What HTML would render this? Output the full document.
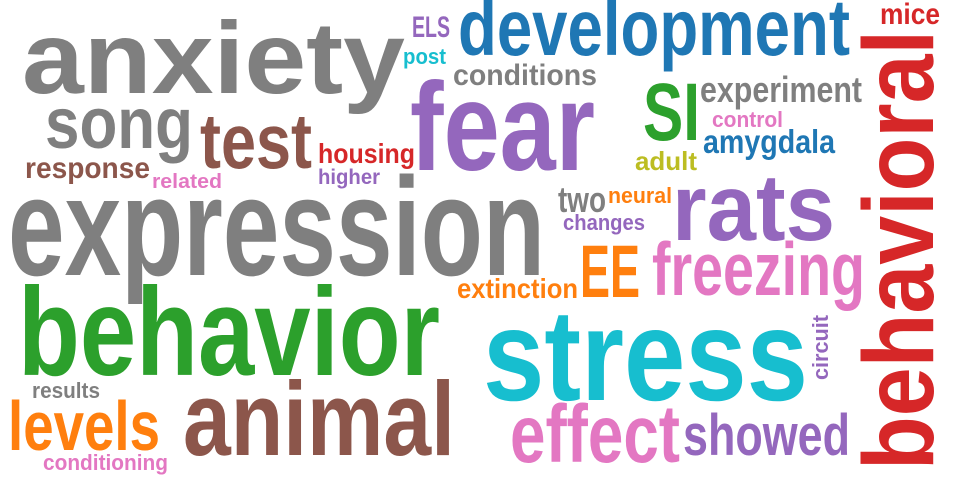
<!DOCTYPE html>
<html><head><meta charset="utf-8"><style>
html,body{margin:0;padding:0;background:#fff;width:960px;height:480px;overflow:hidden}
svg text{font-family:"Liberation Sans Narrow","Liberation Sans",sans-serif;font-weight:bold}
</style></head><body>
<svg id="cloud" width="960" height="480" viewBox="0 0 960 480" xmlns="http://www.w3.org/2000/svg"></svg>
<script>
const words = ["anxiety","song","test","response","related","housing","higher","expression","behavior","results","levels","conditioning","animal","ELS","post","development","conditions","mice","fear","SI","experiment","control","amygdala","adult","two","neural","changes","rats","behavioral","EE","freezing","extinction","stress","circuit","effect","showed"];
const colors = ["#7f7f7f","#7f7f7f","#8c564b","#8c564b","#e377c2","#d62728","#9467bd","#7f7f7f","#2ca02c","#7f7f7f","#ff7f0e","#e377c2","#8c564b","#9467bd","#17becf","#1f77b4","#7f7f7f","#d62728","#9467bd","#2ca02c","#7f7f7f","#e377c2","#1f77b4","#bcbd22","#7f7f7f","#ff7f0e","#9467bd","#9467bd","#d62728","#ff7f0e","#e377c2","#ff7f0e","#17becf","#9467bd","#e377c2","#9467bd"];
// layout: [x, baseline, fontSize, width, rotate]
const layout = [
[22,93,102,383,0],[45,148,72,148,0],[200,168,78,112,0],[25,178,30,125,0],[152,188,20,70,0],[318,163,28,97,0],[318,184,21,62,0],
[8,275,140,537,0],[18,375,125,422,0],[32,398,22,68,0],[8,450,70,152,0],[43,470,22,125,0],[183,455,105,272,0],
[412,37,30,38,0],[403,64,22,43,0],[458,55,80,392,0],[453,85,30,144,0],[880,24,30,60,0],[410,170,125,185,0],
[643,140,82,57,0],[700,102,36,162,0],[712,127,22,71,0],[703,153,33,132,0],[635,170,26,62,0],[558,212,36,48,0],
[608,203,22,64,0],[563,230,22,82,0],[672,240,95,163,0],[933,470,100,440,-90],[580,297,74,60,0],[652,295,75,213,0],
[457,298,28,121,0],[483,400,130,325,0],[828,380,22,65,-90],[510,462,82,170,0],[683,455,58,167,0]
];
const svg = document.getElementById('cloud');
words.forEach((w,i)=>{
  const [x,y,fs,wd,rot] = layout[i];
  const t = document.createElementNS('http://www.w3.org/2000/svg','text');
  t.textContent = w;
  t.setAttribute('x',x); t.setAttribute('y',y);
  t.setAttribute('font-size',fs);
  t.setAttribute('fill',colors[i]);
  t.setAttribute('textLength',wd);
  t.setAttribute('lengthAdjust','spacingAndGlyphs');
  if(rot) t.setAttribute('transform',`rotate(${rot} ${x} ${y})`);
  
  
  svg.appendChild(t);
});
</script>
</body></html>
